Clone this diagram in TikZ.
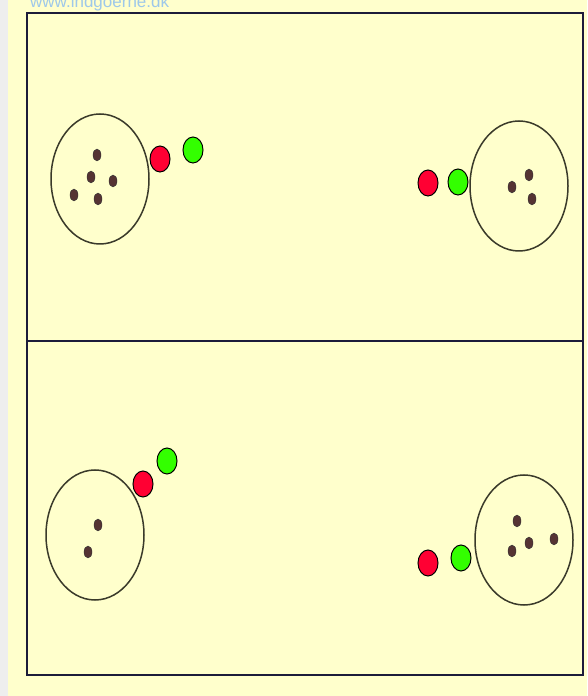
\documentclass[tikz,border=0pt]{standalone}
\usepackage{fontspec}
\setmainfont{Liberation Sans}
\usetikzlibrary{shapes.geometric}
\definecolor{bgyellow}{HTML}{FFFFCC}
\definecolor{framecol}{HTML}{1C1C3A}
\definecolor{ringcol}{HTML}{3A3A2A}
\definecolor{redball}{HTML}{FF0033}
\definecolor{greenball}{HTML}{33FF00}
\definecolor{dotcol}{HTML}{553333}
\definecolor{urlcol}{HTML}{9EC8EA}
\definecolor{stripcol}{HTML}{EEEEEE}
\tikzset{
  ring/.style={ellipse, draw=ringcol, line width=1.5pt, inner sep=0pt, minimum width=98pt, minimum height=130pt},
  ball/.style={ellipse, draw=black, line width=1pt, inner sep=0pt, minimum width=20pt, minimum height=26pt},
  redb/.style={ball, fill=redball},
  greenb/.style={ball, fill=greenball},
  dotp/.style={ellipse, fill=dotcol, draw=black!80, line width=0.4pt, inner sep=0pt, minimum width=8pt, minimum height=12pt},
  framel/.style={draw=framecol, line width=2.2pt}
}
\begin{document}
\begin{tikzpicture}[x=1pt,y=1pt]
\useasboundingbox (0,0) rectangle (587,696);
\fill[stripcol] (0,0) rectangle (8,696);
\fill[bgyellow] (8,0) rectangle (587,696);
\node[anchor=base west, text=urlcol, font=\fontsize{17}{17}\selectfont, inner sep=0pt] (url) at (30,688) {www.indgoerne.dk};
% frame
\draw[framel] (27,683) rectangle (583,21);
\coordinate (midL) at (27,355);
\coordinate (midR) at (583,355);
\draw[framel] (midL) -- (midR);
% top left
\node[ring] (tl) at (100,517) {};
\node[dotp] (tl1) at (97,541) {};
\node[dotp] (tl2) at (91,519) {};
\node[dotp] (tl3) at (113,515) {};
\node[dotp] (tl4) at (74,501) {};
\node[dotp] (tl5) at (98,497) {};
\node[redb] (tlr) at (160,537) {};
\node[greenb] (tlg) at (193,546) {};
% top right
\node[ring] (tr) at (519,510) {};
\node[dotp] (tr1) at (512,509) {};
\node[dotp] (tr2) at (529,521) {};
\node[dotp] (tr3) at (532,497) {};
\node[redb] (trr) at (428,513) {};
\node[greenb] (trg) at (458,514) {};
% bottom left
\node[ring] (bl) at (95,161) {};
\node[dotp] (bl1) at (98,171) {};
\node[dotp] (bl2) at (88,144) {};
\node[redb] (blr) at (143,212) {};
\node[greenb] (blg) at (167,235) {};
% bottom right
\node[ring] (br) at (524,156) {};
\node[dotp] (br1) at (517,175) {};
\node[dotp] (br2) at (529,153) {};
\node[dotp] (br3) at (512,145) {};
\node[dotp] (br4) at (554,157) {};
\node[redb] (brr) at (428,133) {};
\node[greenb] (brg) at (461,138) {};
\end{tikzpicture}
\end{document}
